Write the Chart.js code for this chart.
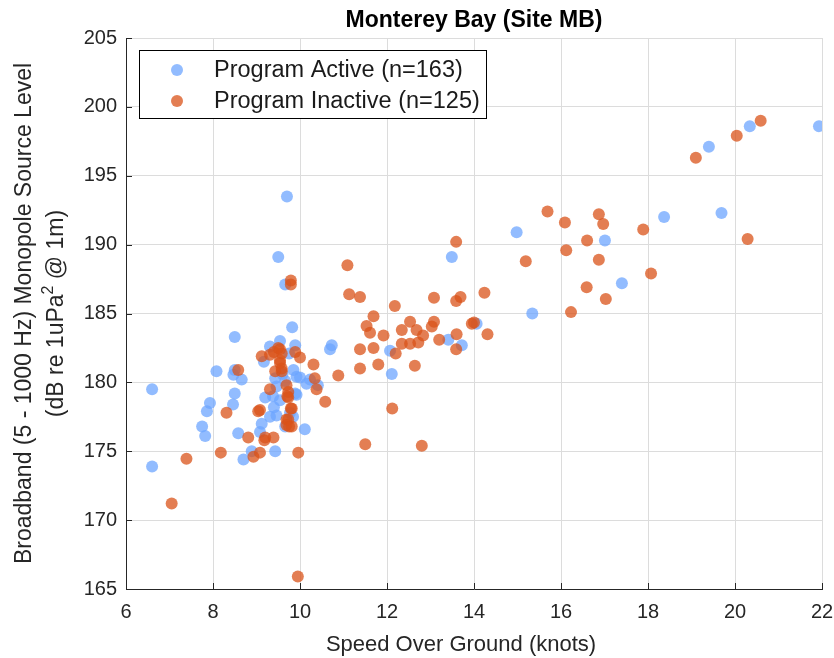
<!DOCTYPE html>
<html>
<head>
<meta charset="utf-8">
<title>Monterey Bay (Site MB)</title>
<script src="https://cdn.jsdelivr.net/npm/chart.js@4.4.0/dist/chart.umd.min.js"></script>
<style>
  html, body { margin: 0; padding: 0; background: #fff; }
  #wrap { width: 834px; height: 658px; }
</style>
</head>
<body>
<div id="wrap"><canvas id="mbChart" width="834" height="658"></canvas></div>
<script>
// values
const activeSpeed = [6.6, 6.6, 7.75, 7.82, 7.86, 7.93, 8.08, 8.47, 8.5, 8.5, 8.66, 8.46, 8.5, 8.58, 8.7,
  8.89, 9.08, 9.12, 9.2, 9.17, 9.31, 9.31, 9.38, 9.43, 9.43, 9.46, 9.46, 9.5, 9.54, 9.54,
  9.66, 9.66, 9.66, 9.7, 9.77, 9.82, 9.84, 9.85, 9.89, 9.89, 9.92, 9.92, 10.0, 10.11, 10.15,
  10.23, 10.41, 10.69, 10.73, 12.07, 12.11, 13.41, 13.49, 13.72, 14.06, 14.98, 15.34, 17.01, 17.4,
  18.37, 19.4, 19.69, 20.34, 21.93, 9.75, 9.6, 9.4];
const activeLevel = [179.5, 173.9, 176.8, 176.1, 177.9, 178.5, 180.8, 180.55, 183.3, 180.9, 180.2, 178.4, 179.2, 176.3, 174.4,
  175.0, 176.4, 177.0, 178.9, 181.5, 182.6, 177.5, 179.0, 180.3, 175.0, 177.6, 179.7, 189.1, 183.0, 178.7,
  187.1, 176.8, 180.1, 193.5, 177.8, 184.0, 177.5, 180.9, 182.7, 179.2, 180.4, 179.1, 180.35, 176.6, 179.9,
  180.2, 179.8, 182.4, 182.7, 182.3, 180.6, 183.1, 189.1, 182.7, 184.25, 190.9, 185.0, 190.3, 187.2,
  192.0, 197.1, 192.3, 198.6, 198.6, 182.1, 180.6, 178.2];

const inactiveSpeed = [7.05, 7.39, 8.18, 8.31, 8.58, 8.81, 8.93, 9.04, 9.08, 9.08, 9.12, 9.18, 9.2, 9.31, 9.31,
  9.39, 9.4, 9.43, 9.5, 9.54, 9.54, 9.54, 9.58, 9.58, 9.58, 9.69, 9.71, 9.73, 9.73, 9.79,
  9.81, 9.69, 9.73, 9.75, 9.69, 9.81, 9.79, 9.79, 9.89, 9.95, 9.96, 10.0, 10.31, 10.34, 10.38,
  10.58, 10.88, 11.09, 11.13, 11.38, 11.38, 11.38, 11.5, 11.53, 11.61, 11.69, 11.69, 11.8, 11.92, 12.12,
  12.18, 12.2, 12.34, 12.53, 12.64, 12.68, 12.72, 12.53, 12.83, 12.34, 12.8, 13.03, 13.08, 13.08, 13.2,
  13.6, 13.59, 13.59, 13.59, 13.69, 13.95, 14.0, 14.24, 14.31, 15.19, 15.69, 16.09, 16.12, 16.23, 16.59,
  16.6, 16.87, 16.97, 16.87, 17.03, 17.89, 18.07, 19.1, 20.04, 20.29, 20.59];
const inactiveLevel = [171.2, 174.45, 174.9, 177.8, 180.9, 176.0, 174.6, 177.9, 178.0, 174.9, 181.9, 175.8, 176.0, 182.0, 179.5,
  176.0, 182.2, 180.8, 182.5, 182.4, 181.6, 181.4, 182.1, 180.8, 181.0, 179.8, 179.0, 179.3, 178.9, 178.1,
  178.1, 177.3, 177.3, 176.8, 176.9, 176.8, 187.1, 187.4, 182.2, 165.9, 174.9, 181.8, 181.3, 180.3, 179.5,
  178.6, 180.5, 188.5, 186.4, 186.2, 182.4, 181.0, 175.5, 184.1, 183.6, 184.8, 182.5, 181.3, 183.4, 178.1,
  185.55, 182.1, 183.8, 184.4, 181.2, 183.8, 182.9, 182.8, 183.4, 182.8, 175.4, 184.05, 186.15, 184.4, 183.1,
  183.5, 182.4, 185.9, 190.2, 186.2, 184.25, 184.35, 186.5, 183.5, 188.8, 192.4, 191.6, 189.6, 185.1, 186.9,
  190.3, 192.2, 191.5, 188.9, 186.05, 191.1, 187.9, 196.3, 197.9, 190.4, 199.0];

const xTicks = [6, 8, 10, 12, 14, 16, 18, 20, 22];
const yTicks = [165, 170, 175, 180, 185, 190, 195, 200, 205];
const seriesNames = ['Program Active (n=163)', 'Program Inactive (n=125)'];

const FONT = '"Liberation Sans", Arial, Helvetica, sans-serif';
const BLUE = 'rgba(110,165,255,0.75)';
const ORANGE = 'rgba(217,83,25,0.75)';
const INK = '#262626';

function pairs(xs, ys) {
    return xs.map((x, i) => ({ x: x, y: ys[i] }));
}

// inward ticks, legend box, titles
const decor = {
    id: 'decor',
    afterDraw(chart) {
        const ctx = chart.ctx;
        const area = chart.chartArea;
        const xs = chart.scales.x;
        const ys = chart.scales.y;
        ctx.save();

        ctx.strokeStyle = INK;
        ctx.lineWidth = 1;
        ctx.beginPath();
        xTicks.forEach(v => {
            const px = Math.round(xs.getPixelForValue(v)) + 0.5;
            ctx.moveTo(px, area.bottom);
            ctx.lineTo(px, area.bottom - 6);
        });
        yTicks.forEach(v => {
            const py = Math.round(ys.getPixelForValue(v)) + 0.5;
            ctx.moveTo(area.left, py);
            ctx.lineTo(area.left + 6, py);
        });
        ctx.stroke();

        // title
        ctx.fillStyle = '#000';
        ctx.font = 'bold 23px ' + FONT;
        ctx.textAlign = 'center';
        ctx.textBaseline = 'alphabetic';
        ctx.fillText('Monterey Bay (Site MB)', (area.left + area.right) / 2, 27);

        // x axis label
        ctx.fillStyle = INK;
        ctx.font = '22px ' + FONT;
        ctx.fillText('Speed Over Ground (knots)', 461, 651);

        // y axis label, two lines
        const midY = (area.top + area.bottom) / 2;
        ctx.save();
        ctx.translate(31, midY);
        ctx.rotate(-Math.PI / 2);
        ctx.textAlign = 'center';
        ctx.font = '23px ' + FONT;
        ctx.fillText('Broadband (5 - 1000 Hz) Monopole Source Level', 0, 0);
        ctx.restore();

        ctx.save();
        ctx.translate(63, midY);
        ctx.rotate(-Math.PI / 2);
        const a = '(dB re 1uPa', s = '2', b = ' @ 1m)';
        ctx.font = '23px ' + FONT;
        const wa = ctx.measureText(a).width, wb = ctx.measureText(b).width;
        ctx.font = '16px ' + FONT;
        const ws = ctx.measureText(s).width;
        const x0 = -(wa + ws + wb) / 2;
        ctx.textAlign = 'left';
        ctx.font = '23px ' + FONT;
        ctx.fillText(a, x0, 0);
        ctx.font = '16px ' + FONT;
        ctx.fillText(s, x0 + wa, -10);
        ctx.font = '23px ' + FONT;
        ctx.fillText(b, x0 + wa + ws, 0);
        ctx.restore();

        // legend
        ctx.fillStyle = '#fff';
        ctx.fillRect(139.5, 50.5, 347, 68);
        ctx.strokeStyle = '#000';
        ctx.strokeRect(139.5, 50.5, 347, 68);
        [BLUE, ORANGE].forEach((c, i) => {
            const cy = 70 + i * 31;
            ctx.fillStyle = c;
            ctx.beginPath();
            ctx.arc(177, cy, 6, 0, Math.PI * 2);
            ctx.fill();
            ctx.fillStyle = '#1a1a1a';
            ctx.font = '23.5px ' + FONT;
            ctx.textAlign = 'left';
            ctx.textBaseline = 'middle';
            ctx.fillText(seriesNames[i], 214, cy + 1);
        });

        ctx.restore();
    }
};

const ctx = document.getElementById('mbChart').getContext('2d');
new Chart(ctx, {
    type: 'scatter',
    data: {
        datasets: [
            {
                label: seriesNames[0],
                data: pairs(activeSpeed, activeLevel),
                backgroundColor: BLUE,
                borderWidth: 0,
                pointRadius: 6,
                order: 1,
            },
            {
                label: seriesNames[1],
                data: pairs(inactiveSpeed, inactiveLevel),
                backgroundColor: ORANGE,
                borderWidth: 0,
                pointRadius: 6,
                order: 0,
            },
        ],
    },
    options: {
        responsive: false,
        animation: false,
        layout: { padding: { top: 38, right: 12, left: 0, bottom: 0 } },
        plugins: {
            legend: { display: false },
            title: { display: false },
            tooltip: { enabled: false },
        },
        scales: {
            x: {
                type: 'linear',
                min: 6,
                max: 22,
                afterBuildTicks: s => { s.ticks = xTicks.map(v => ({ value: v })); },
                afterFit: s => { s.height = 69; s.paddingRight = 0; s.paddingLeft = 0; },
                ticks: { color: INK, font: { family: FONT, size: 20 }, padding: 11, maxRotation: 0 },
                grid: { color: '#dcdcdc', drawTicks: false },
                border: { color: INK, width: 1 },
            },
            y: {
                type: 'linear',
                min: 165,
                max: 205,
                afterBuildTicks: s => { s.ticks = yTicks.map(v => ({ value: v })); },
                afterFit: s => { s.width = 126; s.paddingTop = 0; s.paddingBottom = 0; },
                ticks: { color: INK, font: { family: FONT, size: 20 }, padding: 9 },
                grid: { color: '#dcdcdc', drawTicks: false },
                border: { color: INK, width: 1 },
            },
        },
    },
    plugins: [decor],
});
</script>
</body>
</html>
